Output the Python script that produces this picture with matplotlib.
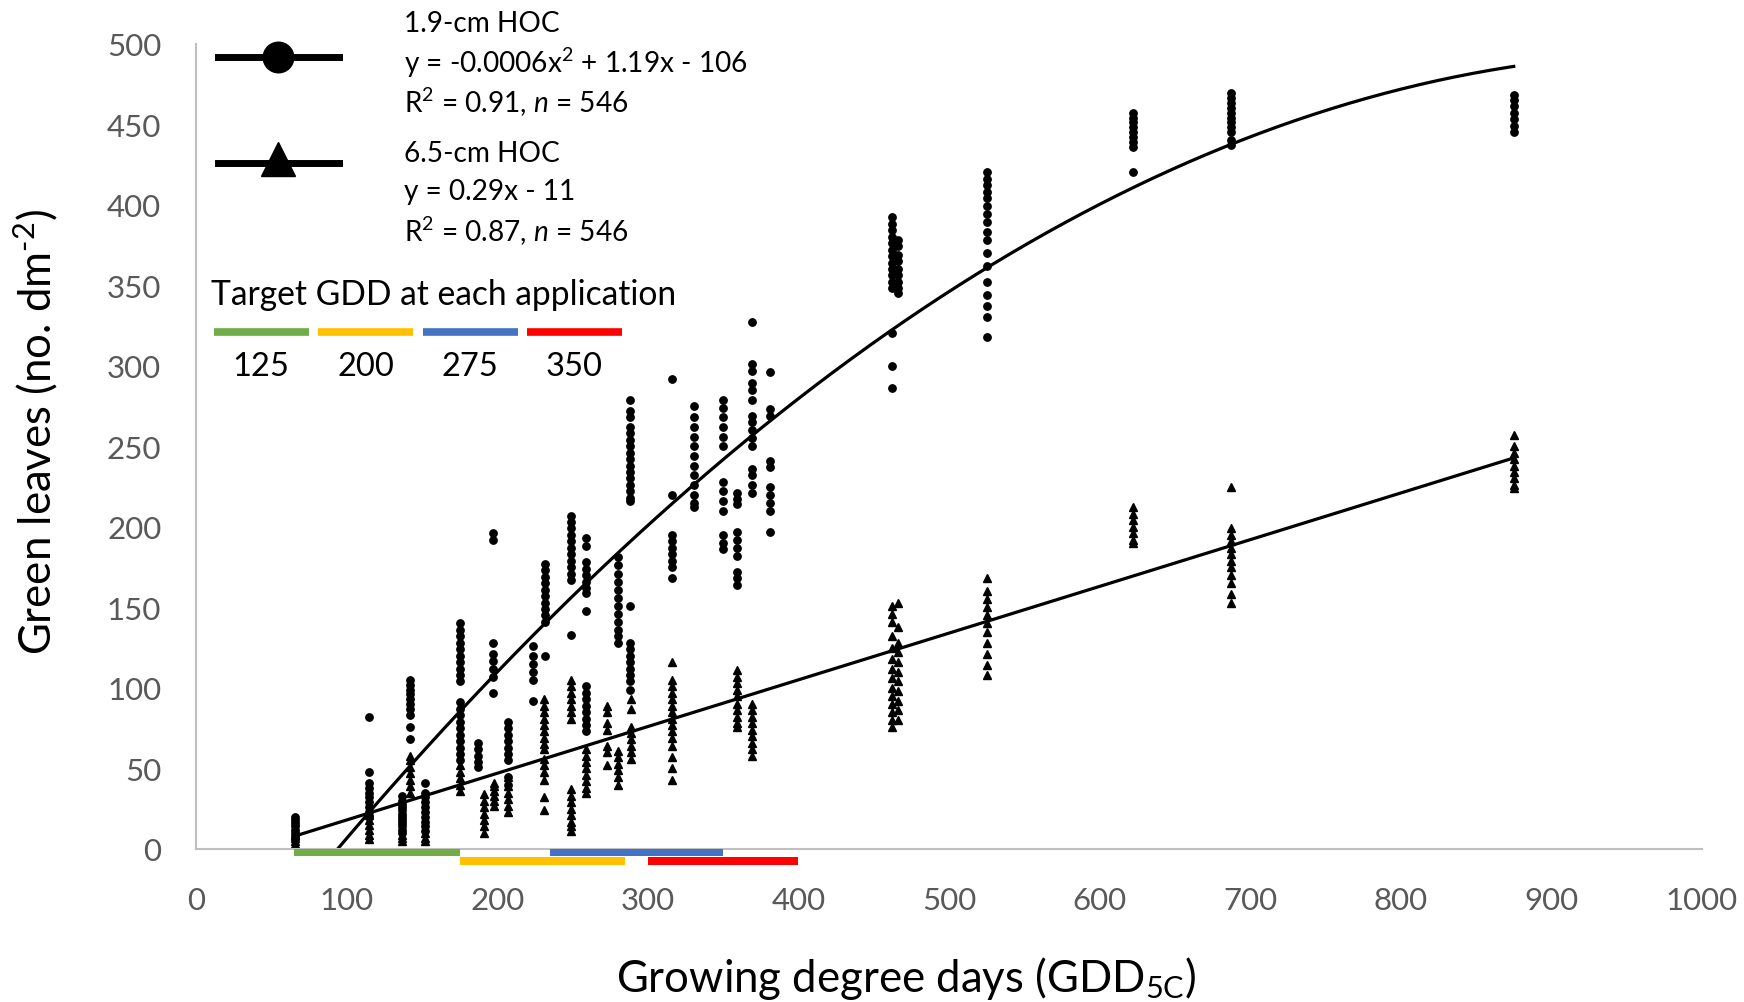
import numpy as np
import matplotlib
matplotlib.use("Agg")
import matplotlib.pyplot as plt
from matplotlib.lines import Line2D
from matplotlib.patches import Rectangle

plt.rcParams["font.family"] = ["Lato", "DejaVu Sans"]
plt.rcParams["mathtext.fontset"] = "custom"
plt.rcParams["mathtext.rm"] = "Lato"
plt.rcParams["mathtext.it"] = "Lato:italic"

# 1.9-cm HOC (circles): GDD position and green leaf counts
circ_x = [66, 115, 137, 142, 152, 175, 187, 197, 207, 224, 232, 249, 259, 280,
          288, 316, 331, 350, 359, 369, 381, 462, 466, 525, 622, 687, 875]
circ_y = [
    [6, 8, 10, 12, 14, 16, 18, 20],
    [82, 48, 41, 38, 35, 32, 29, 26, 23, 20],
    [33, 30, 28, 26, 24, 22, 20, 18, 16, 14, 12, 10],
    [105, 102, 99, 96, 93, 90, 87, 83, 76, 68],
    [41, 35, 32, 29, 26, 23, 20, 17, 14, 11],
    [140, 136, 132, 128, 124, 120, 116, 112, 108, 104, 91, 87, 83, 79, 75, 71,
     67, 63, 59, 55],
    [66, 62, 58, 54, 51],
    [196, 192, 128, 121, 117, 112, 107, 97],
    [79, 75, 71, 67, 63, 59, 55, 45, 40],
    [126, 120, 115, 110, 105, 92],
    [177, 173, 169, 165, 161, 157, 153, 149, 145, 141, 120],
    [207, 203, 199, 195, 191, 187, 183, 179, 175, 171, 167, 133],
    [193, 188, 178, 174, 170, 166, 162, 159, 148, 101, 97, 93, 89, 85, 81, 77, 73],
    [181, 176, 171, 166, 161, 156, 151, 146, 141, 136, 132, 128],
    [279, 272, 268, 262, 258, 254, 250, 246, 242, 238, 234, 230, 226, 222, 218,
     216, 151, 128, 124, 120, 116, 112, 108, 104, 99],
    [292, 220, 195, 191, 187, 183, 179, 175, 168],
    [275, 268, 262, 256, 250, 244, 238, 232, 226, 220, 215, 212],
    [279, 274, 268, 262, 256, 250, 228, 222, 216, 210, 195, 190, 186],
    [221, 217, 214, 197, 192, 187, 182, 172, 168, 164],
    [327, 301, 297, 289, 285, 279, 269, 265, 260, 255, 250, 236, 232, 226, 221],
    [296, 273, 269, 241, 237, 225, 220, 215, 210, 197],
    [392, 388, 384, 380, 376, 372, 368, 364, 360, 356, 352, 348, 320, 300, 286],
    [378, 374, 369, 365, 360, 356, 352, 348, 345],
    [420, 416, 412, 408, 404, 399, 394, 389, 383, 378, 370, 362, 352, 344, 337,
     330, 318],
    [457, 454, 451, 448, 445, 442, 439, 436, 420],
    [469, 466, 463, 460, 457, 454, 451, 448, 445, 440, 437],
    [468, 465, 461, 457, 453, 449, 445],
]

# 6.5-cm HOC (triangles)
tri_x = [66, 115, 137, 142, 152, 175, 191, 198, 207, 231, 249, 259, 273, 280,
         289, 316, 359, 369, 462, 466, 525, 622, 687, 875]
tri_y = [
    [3, 5, 7, 9],
    [6, 9, 12, 15, 18, 21, 23],
    [5, 7, 9],
    [35, 39, 43, 47, 51, 55, 58],
    [5, 7, 10],
    [36, 40, 44, 48, 52],
    [10, 14, 18, 22, 26, 30, 34],
    [27, 30, 33, 36, 39, 41],
    [23, 27, 31, 35, 39, 45],
    [93, 89, 85, 81, 77, 73, 69, 65, 62, 56, 52, 48, 43, 32, 24],
    [105, 101, 97, 93, 89, 85, 81, 37, 33, 29, 25, 21, 17, 14, 11],
    [62, 58, 54, 50, 46, 42, 38, 35],
    [89, 85, 78, 74, 64, 60, 52],
    [61, 57, 53, 49, 45, 40],
    [93, 87, 76, 72, 68, 64, 60, 56],
    [116, 105, 101, 97, 93, 89, 85, 81, 77, 73, 69, 64, 57, 50, 43],
    [111, 107, 103, 99, 95, 90, 86, 82, 78, 76],
    [90, 86, 82, 78, 74, 70, 66, 62, 58],
    [151, 146, 141, 132, 125, 118, 112, 106, 100, 95, 90, 85, 80, 76],
    [153, 138, 128, 122, 116, 110, 104, 98, 92, 86, 80],
    [168, 160, 155, 150, 145, 140, 135, 128, 121, 114, 108],
    [212, 208, 204, 200, 196, 192, 190],
    [225, 199, 195, 191, 187, 183, 179, 175, 170, 165, 158, 153],
    [257, 250, 246, 242, 238, 234, 230, 226, 224],
]

# trendlines (coefficients as drawn)
quad_coef = [-0.000614, 1.217, -109.0]
quad_range = [94, 875]
lin_coef = [0.29, -11.0]
lin_range = [65, 875]

# target GDD application windows
app_labels = ["125", "200", "275", "350"]
app_start = [65, 175, 235, 300]
app_end = [175, 285, 350, 400]
app_colors = ["#70AD47", "#FFC000", "#4472C4", "#FF0000"]
app_level = [0, 1, 0, 1]

W, H = 1744, 1003
fig = plt.figure(figsize=(W / 100, H / 100), dpi=100)
ax = fig.add_axes([196 / W, 1 - 850 / H, (1702 - 196) / W, (850 - 44.5) / H])

cx = np.concatenate([[x] * len(ys) for x, ys in zip(circ_x, circ_y)])
cy = np.concatenate(circ_y)
tx = np.concatenate([[x] * len(ys) for x, ys in zip(tri_x, tri_y)])
ty = np.concatenate(tri_y)

ax.plot(cx, cy, "o", color="black", markersize=5.3, linestyle="none", clip_on=False)
ax.plot(tx, ty, "^", color="black", markersize=5.3, linestyle="none", clip_on=False)

xq = np.linspace(quad_range[0], quad_range[1], 200)
ax.plot(xq, np.polyval(quad_coef, xq), color="black", linewidth=2.3)
xl = np.array(lin_range)
ax.plot(xl, np.polyval(lin_coef, xl), color="black", linewidth=2.3)

bar_h = 4.5
for s, e, c, lv in zip(app_start, app_end, app_colors, app_level):
    y0 = -bar_h if lv == 0 else -2 * bar_h - 0.7
    ax.add_patch(Rectangle((s, y0), e - s, bar_h, facecolor=c, edgecolor="none",
                           clip_on=False, zorder=5))

ax.set_xlim(0, 1000)
ax.set_ylim(0, 500)
ax.set_xticks(np.arange(0, 1001, 100))
ax.set_yticks(np.arange(0, 501, 50))
ax.tick_params(length=0, labelsize=22.5, colors="#595959")
ax.tick_params(axis="x", pad=27)
ax.tick_params(axis="y", pad=25)
for side in ["top", "right"]:
    ax.spines[side].set_visible(False)
for side in ["left", "bottom"]:
    ax.spines[side].set_color("#BFBFBF")
    ax.spines[side].set_linewidth(1.5)

fig.text(906.5 / W, 1 - 979 / H, r"Growing degree days (GDD$_{\mathregular{5C}}$)",
         fontsize=31.5, ha="center", va="center")
fig.text(35.6 / W, 1 - 432 / H, "Green leaves (no. dm$^{\\mathregular{\u20102}}$)",
         fontsize=31.5, ha="center", va="center", rotation=90)

# legend drawn by hand
def fx(px):
    return px / W

def fy(py):
    return 1 - py / H

fig.add_artist(Line2D([fx(218), fx(339)], [fy(58), fy(58)], color="black", linewidth=5))
fig.add_artist(Line2D([fx(278)], [fy(58)], marker="o", markersize=22, color="black"))
fig.add_artist(Line2D([fx(218), fx(339)], [fy(164), fy(164)], color="black", linewidth=5))
fig.add_artist(Line2D([fx(278)], [fy(160)], marker="^", markersize=24, color="black"))

leg_lines = [
    (24.5, "1.9-cm HOC"),
    (63.4, r"y = -0.0006x$^{\mathregular{2}}$ + 1.19x - 106"),
    (102.3, r"R$^{\mathregular{2}}$ = 0.91, $\mathit{n}$ = 546"),
    (153.5, "6.5-cm HOC"),
    (192.4, "y = 0.29x - 11"),
    (231.3, r"R$^{\mathregular{2}}$ = 0.87, $\mathit{n}$ = 546"),
]
for py, s in leg_lines:
    fig.text(fx(404), fy(py), s, fontsize=20.2, ha="left", va="center")

fig.text(fx(211), fy(294.7), "Target GDD at each application", fontsize=24.2,
         ha="left", va="center")
leg_bar_x = [213.5, 318, 422.6, 527]
for lx, c, lab in zip(leg_bar_x, app_colors, app_labels):
    fig.add_artist(Line2D([fx(lx), fx(lx + 95)], [fy(332.6), fy(332.6)], color=c,
                          linewidth=5.5, solid_capstyle="butt"))
    fig.text(fx(lx + 47.5), fy(367), lab, fontsize=23.5, ha="center", va="center")

fig.savefig("out.png", dpi=100)
